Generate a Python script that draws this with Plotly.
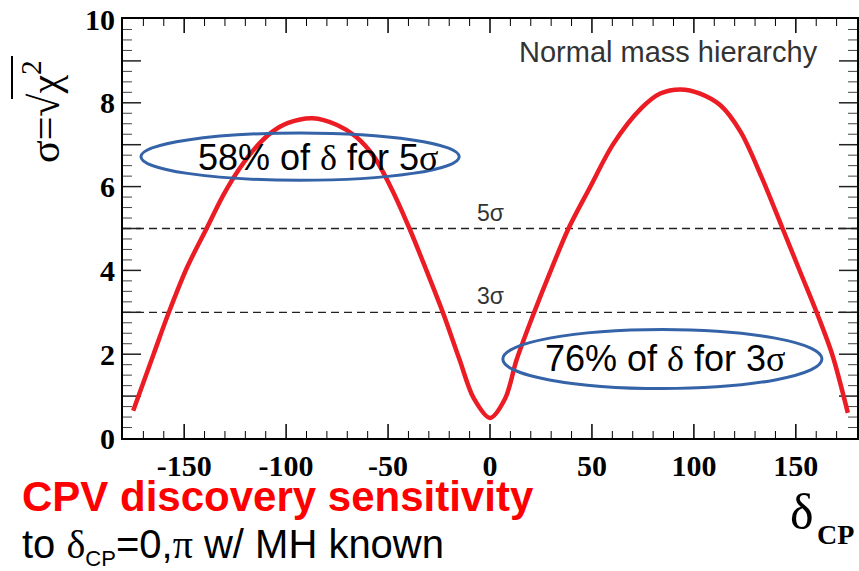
import numpy as np
import plotly.graph_objects as go

# ---- data ----
delta_cp = [-175, -165, -157.5, -148.5, -139, -131, -123, -115, -107, -99, -87, -75, -66, -57, -48,
            -39.5, -31.5, -23, -15, -8, 0, 7.5, 13, 21.5, 30, 38.5, 49, 60.5, 74, 83.5, 93.5,
            103, 113, 123, 133, 143.5, 152.5, 161, 168, 175.5]
sigma = [0.65, 2.0, 3.0, 4.08, 5.0, 5.78, 6.42, 6.93, 7.3, 7.52, 7.63, 7.47, 7.2, 6.72, 5.92,
         5.0, 4.04, 2.98, 1.88, 0.95, 0.48, 0.95, 1.86, 2.98, 4.02, 5.0, 5.98, 7.02, 7.86, 8.22, 8.32,
         8.22, 7.94, 7.3, 6.25, 5.0, 3.92, 2.9, 1.97, 0.6]

x_range = [-180, 180]
y_range = [0, 10]
x_tickvals = [-150, -100, -50, 0, 50, 100, 150]
x_ticktext = ["-150", "-100", "-50", "0", "50", "100", "150"]
y_tickvals = [0, 2, 4, 6, 8, 10]
y_ticktext = ["0", "2", "4", "6", "8", "10"]
x_minor_step = 10
y_mid_step = 1
y_minor_step = 0.25
sigma_levels = [5, 3]
sigma_labels = ["5σ", "3σ"]

SANS = "Liberation Sans, Arial, sans-serif"
SERIF = "Liberation Serif, Times New Roman, serif"

# plot area in pixels (used to convert tick lengths in px to axis units)
PLOT_W, PLOT_H = 734, 419
X_PER_PX = (x_range[1] - x_range[0]) / PLOT_W
Y_PER_PX = (y_range[1] - y_range[0]) / PLOT_H


def px_x(x):
    return (x - 123) / 734


def px_y(y):
    return (438 - y) / 419


fig = go.Figure()

# ---- ROOT-style inside ticks on all four sides ----
def x_tick_segments(vals, length_px):
    xs, ys = [], []
    L = length_px * Y_PER_PX
    for v in vals:
        xs += [v, v, None, v, v, None]
        ys += [y_range[0], y_range[0] + L, None, y_range[1], y_range[1] - L, None]
    return xs, ys


def y_tick_segments(vals, length_px):
    xs, ys = [], []
    L = length_px * X_PER_PX
    for v in vals:
        xs += [x_range[0], x_range[0] + L, None, x_range[1], x_range[1] - L, None]
        ys += [v, v, None, v, v, None]
    return xs, ys


x_all = [float(v) for v in np.arange(x_range[0] + x_minor_step, x_range[1], x_minor_step)]
x_major = [v for v in x_all if v in x_tickvals]
x_minor = [v for v in x_all if v not in x_tickvals]
y_all = [float(v) for v in np.arange(y_range[0] + y_minor_step, y_range[1], y_minor_step)]
y_mid = [v for v in y_all if abs(v / y_mid_step - round(v / y_mid_step)) < 1e-9]
y_minor = [v for v in y_all if v not in y_mid]

for (xs, ys), w, c in [
    (x_tick_segments(x_major, 14), 1.5, "black"),
    (x_tick_segments(x_minor, 7), 1.0, "black"),
    (y_tick_segments(y_mid, 18), 1.5, "#222222"),
    (y_tick_segments(y_minor, 9), 1.0, "#444444"),
]:
    fig.add_trace(go.Scatter(x=xs, y=ys, mode="lines", line=dict(color=c, width=w),
                             showlegend=False, hoverinfo="skip", connectgaps=False))

fig.add_trace(go.Scatter(
    x=delta_cp, y=sigma, mode="lines",
    line=dict(color="#ec1c24", width=4.5, shape="spline", smoothing=0.9),
    showlegend=False, hoverinfo="skip"))

for lvl, lab in zip(sigma_levels, sigma_labels):
    fig.add_shape(type="line", xref="x", yref="y", x0=x_range[0], x1=x_range[1], y0=lvl, y1=lvl,
                  line=dict(color="#222222", width=1.3, dash="8px,5px"), layer="below")
    fig.add_annotation(x=0, y=lvl + 0.38, xref="x", yref="y", text=lab, showarrow=False,
                       xanchor="center", yanchor="middle",
                       font=dict(family=SANS, size=23, color="#333333"))

# ellipses
fig.add_shape(type="circle", xref="x", yref="y", x0=-171.2, x1=-15.1, y0=6.15, y1=7.28,
              line=dict(color="#3563a8", width=3))
fig.add_shape(type="circle", xref="x", yref="y", x0=6.3, x1=162.8, y0=1.18, y1=2.59,
              line=dict(color="#3563a8", width=3))
fig.add_annotation(x=-84, y=6.7, xref="x", yref="y", showarrow=False,
                   xanchor="center", yanchor="middle",
                   text="58% of <span style='font-family:Liberation Serif'>δ</span> for 5<span style='font-family:Liberation Serif'>σ</span>",
                   font=dict(family=SANS, size=36, color="black"))
fig.add_annotation(x=86, y=1.89, xref="x", yref="y", showarrow=False,
                   xanchor="center", yanchor="middle",
                   text="76% of <span style='font-family:Liberation Serif'>δ</span> for 3<span style='font-family:Liberation Serif'>σ</span>",
                   font=dict(family=SANS, size=36, color="black"))

fig.add_annotation(x=162, y=9.21, xref="x", yref="y", xanchor="right", yanchor="middle",
                   showarrow=False,
                   text="Normal mass hierarchy", font=dict(family=SANS, size=29, color="#333333"))

# y axis title (sqrt overline drawn as a short line)
fig.add_annotation(x=px_x(42), y=px_y(112), xref="paper", yref="paper",
                   xanchor="center", yanchor="middle",
                   showarrow=False, textangle=-90,
                   text="σ=√χ<sup>2</sup>",
                   font=dict(family=SERIF, size=42, color="black"))
fig.add_shape(type="line", xref="paper", yref="paper",
              x0=px_x(12), x1=px_x(12), y0=px_y(56), y1=px_y(99),
              line=dict(color="black", width=2))

# x axis title
fig.add_annotation(x=px_x(802), y=px_y(512), xref="paper", yref="paper",
                   xanchor="center", yanchor="middle",
                   showarrow=False, text="δ", font=dict(family=SERIF, size=50, color="black"))
fig.add_annotation(x=px_x(835), y=px_y(534), xref="paper", yref="paper",
                   xanchor="center", yanchor="middle",
                   showarrow=False, text="CP", font=dict(family=SERIF, size=28, color="black", weight="bold"))

# bottom-left caption
fig.add_annotation(x=px_x(20), y=px_y(496), xref="paper", yref="paper",
                   xanchor="left", yanchor="middle", showarrow=False, text="CPV discovery sensitivity",
                   font=dict(family=SANS, size=42, color="#ff0000", weight="bold"))
fig.add_annotation(x=px_x(20), y=px_y(546), xref="paper", yref="paper",
                   xanchor="left", yanchor="middle", showarrow=False,
                   text="to <span style='font-family:Liberation Serif'>δ</span><sub><span style='font-size:22px'>CP</span></sub>=0,<span style='font-family:Liberation Serif'>π</span> w/ MH known",
                   font=dict(family=SANS, size=40, color="black"))

fig.update_layout(
    width=859, height=571,
    margin=dict(l=123, r=2, t=19, b=133),
    paper_bgcolor="white", plot_bgcolor="white",
    xaxis=dict(range=x_range, showgrid=False, zeroline=False, automargin=False,
               showline=True, linecolor="black", linewidth=2, mirror=True,
               tickmode="array", tickvals=x_tickvals, ticktext=x_ticktext, ticks="",
               tickfont=dict(family=SERIF, size=30, color="black", weight="bold")),
    yaxis=dict(range=y_range, showgrid=False, zeroline=False, automargin=False,
               showline=True, linecolor="black", linewidth=2, mirror=True,
               tickmode="array", tickvals=y_tickvals, ticktext=y_ticktext, ticks="",
               tickfont=dict(family=SERIF, size=30, color="black", weight="bold")),
)

fig.write_html("out.html")
